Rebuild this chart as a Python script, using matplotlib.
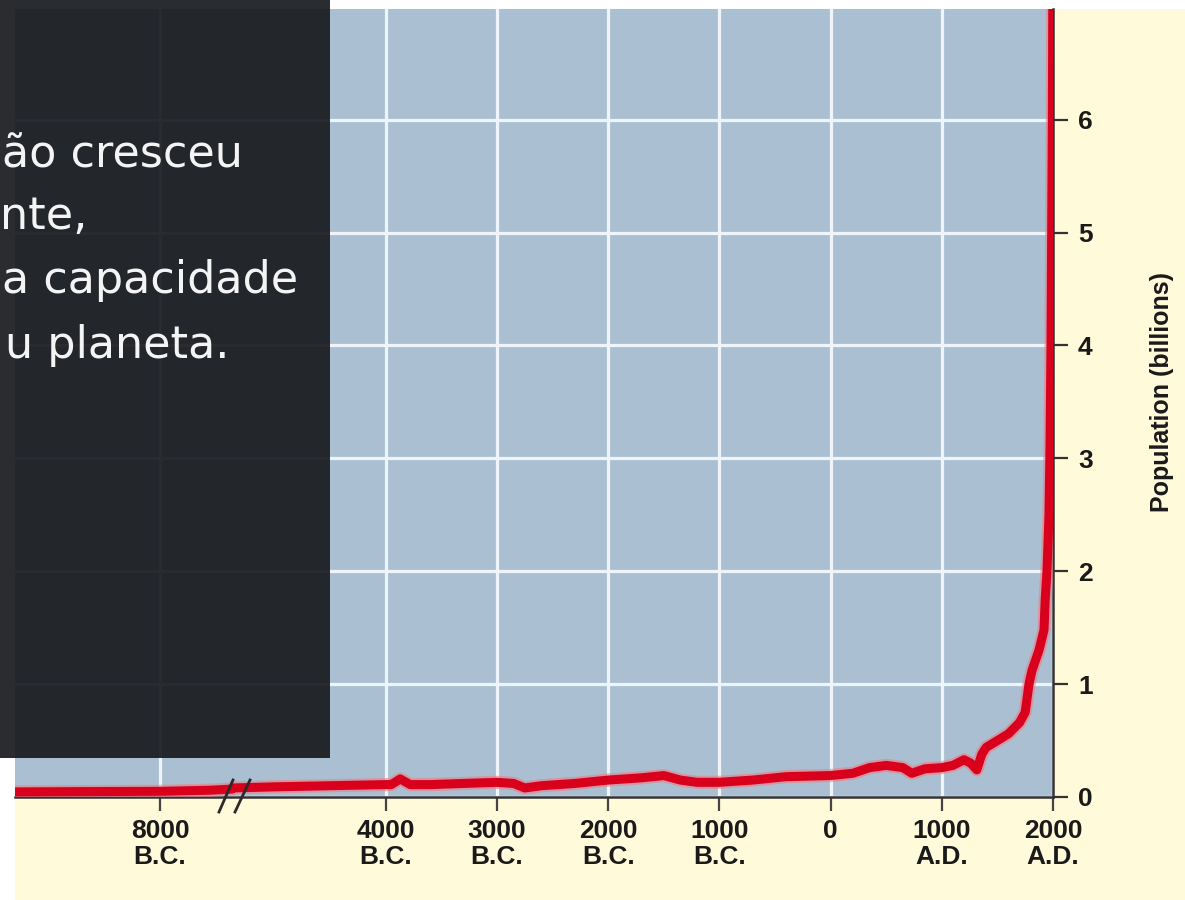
import numpy as np
import matplotlib
matplotlib.use("Agg")
import matplotlib.pyplot as plt
from matplotlib.patches import Rectangle
from matplotlib.lines import Line2D

# world population (billions)
years = [-10900, -9500, -8000, -7000, -6560, -5378, -5000, -4500, -4000,
         -3950, -3870, -3780, -3600, -3300, -3000, -2850, -2750, -2600,
         -2300, -2000, -1700, -1500, -1350, -1200, -1000, -700, -400, 0,
         200, 350, 500, 650, 730, 850, 1000, 1100, 1200, 1260, 1315, 1360,
         1400, 1500, 1600, 1700, 1750, 1784, 1811, 1874, 1919, 1930, 1946,
         1964, 1973, 1982, 1988, 1994, 2000]
population = [0.045, 0.048, 0.05, 0.06, 0.07, 0.08, 0.09, 0.10, 0.11,
              0.11, 0.16, 0.11, 0.11, 0.12, 0.13, 0.12, 0.08, 0.10,
              0.12, 0.15, 0.17, 0.19, 0.15, 0.13, 0.13, 0.15, 0.18, 0.19,
              0.21, 0.26, 0.28, 0.26, 0.21, 0.25, 0.26, 0.28, 0.33, 0.30, 0.24, 0.38,
              0.44, 0.50, 0.56, 0.66, 0.75, 1.0, 1.12, 1.30, 1.48, 1.75, 2.0,
              2.5, 3.1, 4.0, 5.0, 6.0, 7.5]

tick_years = [-8000, -4000, -3000, -2000, -1000, 0, 1000, 2000]
tick_labels = ["8000\nB.C.", "4000\nB.C.", "3000\nB.C.", "2000\nB.C.",
               "1000\nB.C.", "0", "1000\nA.D.", "2000\nA.D."]
y_ticks = [0, 1, 2, 3, 4, 5, 6]

# the visible parts of the overlay text
text_lines = ["ão cresceu", "nte,", "a capacidade", "u planeta."]

W, H = 1185, 900

# broken time axis: compressed before the break, linear after
knots_year = [-30000, -10900, -6560, -5378, 2000, 5000]
knots_px = [-940, 15, 232, 232.5, 1053, 1386.6]


def fwd(y):
    return np.interp(y, knots_year, knots_px)


def inv(p):
    return np.interp(p, knots_px, knots_year)


fig = plt.figure(figsize=(W / 100, H / 100), dpi=100, facecolor="white")
fig.add_artist(Rectangle((15 / W, 0), 1 - 15 / W, 891 / H, transform=fig.transFigure,
                         facecolor="#fffbda", edgecolor="none", zorder=-1))

ax = fig.add_axes([15 / W, 103 / H, 1038 / W, 788 / H])
ax.set_facecolor("#aac0d2")
ax.set_xscale("function", functions=(fwd, inv))
ax.set_xlim(-10900, 2000)
ax.set_ylim(0, 6.98)

ax.plot(years, population, color="#ee7d84", lw=9.5, alpha=0.6,
        solid_capstyle="round", solid_joinstyle="round", zorder=3)
ax.plot(years, population, color="#d8001c", lw=6.5,
        solid_capstyle="round", solid_joinstyle="round", zorder=4)

ax.set_xticks(tick_years)
ax.set_xticklabels(tick_labels, fontsize=19, fontweight="bold",
                   family="Liberation Sans", linespacing=1.1, color="#1a1a1a")
ax.set_yticks(y_ticks)
ax.yaxis.tick_right()
ax.set_yticklabels([str(v) for v in y_ticks], fontsize=19, fontweight="bold",
                   family="Liberation Sans", color="#1a1a1a")
ax.tick_params(axis="x", length=10, width=1.6, color="#444444", pad=6)
ax.tick_params(axis="y", length=11, width=1.6, color="#333333", pad=7)
ax.minorticks_off()

ax.grid(True, color="#eef4fa", lw=2.3)
ax.set_axisbelow(True)

for s in ["left", "top"]:
    ax.spines[s].set_visible(False)
for s in ["bottom", "right"]:
    ax.spines[s].set_color("#333333")
    ax.spines[s].set_linewidth(1.8)

ax.set_ylabel("Population (billions)", fontsize=18, fontweight="bold",
              family="Liberation Sans", color="#1a1a1a")
ax.yaxis.set_label_position("right")
ax.yaxis.set_label_coords(1.093, 0.514)

# break marks on the time axis
for (x0, y0, x1, y1) in [(233, 780, 219, 812), (250, 780, 235, 812)]:
    fig.add_artist(Line2D([x0 / W, x1 / W], [1 - y0 / H, 1 - y1 / H],
                          transform=fig.transFigure, color="#2a2a2a", lw=2, zorder=5))

# dark text panel over the left part
fig.add_artist(Rectangle((0, 1 - 758 / H), 330 / W, 758 / H, transform=fig.transFigure,
                         facecolor="#141519", edgecolor="none", alpha=0.9, zorder=6))
ends = [229, 87, 298, 229]
bases = [167, 229, 293, 358]
for line, xe, yb in zip(text_lines, ends, bases):
    if line.startswith("ão"):
        fig.text(2 / W, 1 - yb / H, line, ha="left", va="baseline", fontsize=32,
                 family="DejaVu Sans", color="#f4f4f4", zorder=7)
    else:
        fig.text(xe / W, 1 - yb / H, line, ha="right", va="baseline", fontsize=32,
                 family="DejaVu Sans", color="#f4f4f4", zorder=7)

fig.savefig("out.png", dpi=100, facecolor=fig.get_facecolor())
